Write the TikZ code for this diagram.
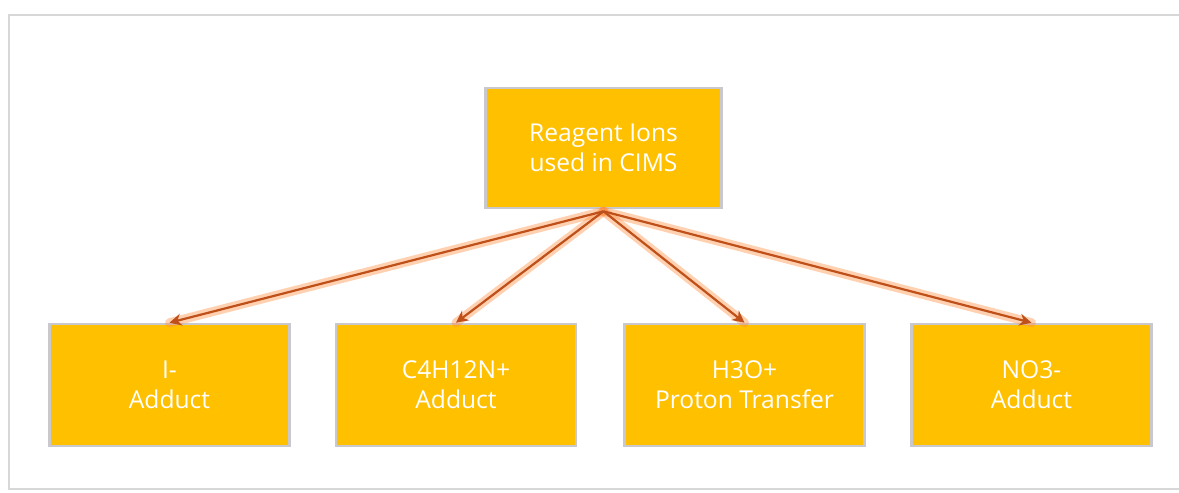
\documentclass[tikz,border=0pt]{standalone}
\usepackage{fontspec}
\setmainfont{Open Sans}
\usetikzlibrary{arrows.meta}
\definecolor{boxfill}{RGB}{255,192,0}
\definecolor{boxedge}{RGB}{200,200,205}
\definecolor{arr}{RGB}{192,80,26}
\definecolor{glow}{RGB}{255,140,60}
\definecolor{frameline}{RGB}{215,215,215}
\tikzset{
  box/.style={draw=boxedge, line width=1.3pt, fill=boxfill, minimum width=118pt, minimum height=60pt,
    text=white, align=center, font=\fontsize{12.3}{15}\selectfont, inner sep=0pt},
  glowline/.style={draw=glow, line width=4.5pt, opacity=0.4, line cap=round},
  arrline/.style={draw=arr, line width=1.1pt, -{Stealth[length=6pt,width=6pt]}}
}
\begin{document}
\begin{tikzpicture}[x=0.5pt,y=-0.5pt]
\useasboundingbox (0,0) rectangle (1179,493);
\fill[white] (0,0) rectangle (1179,493);
\draw[frameline, line width=1.2pt] (1185,15) -- (9,15) -- (9,489) -- (1185,489);
\node[box, minimum width=118pt, minimum height=60pt] (top) at (603.5,148) {Reagent Ions\\used in CIMS};
\node[box, minimum width=120pt, minimum height=61pt] (b1) at (169.5,385) {I-\\Adduct};
\node[box, minimum width=120pt, minimum height=61pt] (b2) at (456,385) {C4H12N+\\Adduct};
\node[box, minimum width=120pt, minimum height=61pt] (b3) at (744.5,385) {H3O+\\Proton Transfer};
\node[box, minimum width=120pt, minimum height=61pt] (b4) at (1031.5,385) {NO3-\\Adduct};
\coordinate (s) at ([yshift=-1pt]top.south);
\foreach \t in {b1,b2,b3,b4}{
  \path[glowline] (s) -- (\t.north);
}
\foreach \t in {b1,b2,b3,b4}{
  \draw[arrline] (s) -- (\t.north);
}
\end{tikzpicture}
\end{document}
